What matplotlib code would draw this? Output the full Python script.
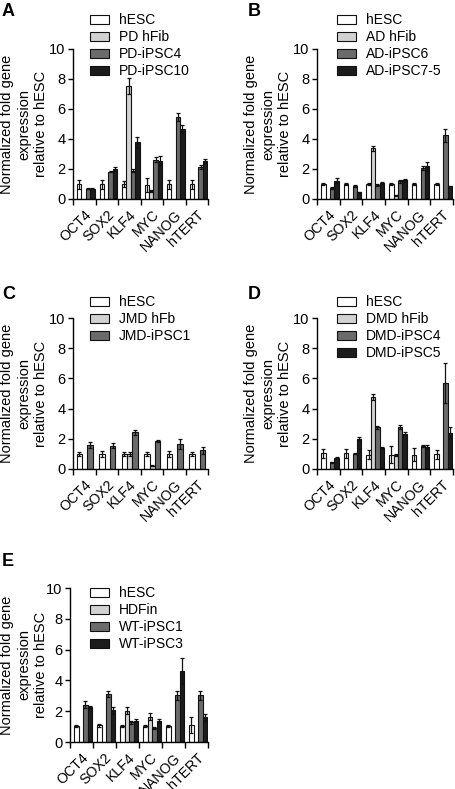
import numpy as np
import matplotlib
matplotlib.use("Agg")
import matplotlib.pyplot as plt

plt.rcParams['font.family'] = ['Liberation Sans', 'DejaVu Sans']

genes = ["OCT4", "SOX2", "KLF4", "MYC", "NANOG", "hTERT"]

# Panel A
a_labels = ["hESC", "PD hFib", "PD-iPSC4", "PD-iPSC10"]
a_hesc = [1.0, 1.0, 1.0, 0.95, 1.0, 1.0]
a_hesc_err = [0.3, 0.3, 0.2, 0.45, 0.3, 0.3]
a_fib = [0, 0, 7.55, 0.55, 0, 0]
a_fib_err = [0, 0, 0.55, 0.05, 0, 0]
a_ips1 = [0.7, 1.82, 1.9, 2.62, 5.45, 2.15]
a_ips1_err = [0.05, 0.05, 0.07, 0.15, 0.28, 0.15]
a_ips2 = [0.7, 2.02, 3.78, 2.56, 4.68, 2.55]
a_ips2_err = [0.05, 0.12, 0.35, 0.28, 0.25, 0.15]

# Panel B
b_labels = ["hESC", "AD hFib", "AD-iPSC6", "AD-iPSC7-5"]
b_hesc = [1.0, 1.0, 1.0, 1.0, 1.0, 1.0]
b_hesc_err = [0.07, 0.05, 0.07, 0.05, 0.07, 0.05]
b_fib = [0, 0, 3.37, 0.24, 0, 0]
b_fib_err = [0, 0, 0.15, 0.03, 0, 0]
b_ips1 = [0.73, 0.88, 0.95, 1.2, 2.08, 4.25]
b_ips1_err = [0.05, 0.08, 0.08, 0.1, 0.15, 0.45]
b_ips2 = [1.23, 0.46, 1.08, 1.27, 2.17, 0.86]
b_ips2_err = [0.15, 0.03, 0.08, 0.06, 0.28, 0.04]

# Panel C
c_labels = ["hESC", "JMD hFb", "JMD-iPSC1"]
c_hesc = [1.0, 1.0, 1.0, 1.0, 1.0, 1.0]
c_hesc_err = [0.15, 0.18, 0.15, 0.12, 0.22, 0.12]
c_fib = [0, 0, 1.0, 0.22, 0, 0]
c_fib_err = [0, 0, 0.12, 0.03, 0, 0]
c_ips1 = [1.6, 1.55, 2.42, 1.83, 1.67, 1.23]
c_ips1_err = [0.18, 0.15, 0.15, 0.06, 0.32, 0.22]

# Panel D
d_labels = ["hESC", "DMD hFib", "DMD-iPSC4", "DMD-iPSC5"]
d_hesc = [1.03, 1.03, 0.96, 0.96, 0.96, 0.98]
d_hesc_err = [0.27, 0.27, 0.33, 0.55, 0.42, 0.3]
d_fib = [0, 0, 4.8, 0.94, 0, 0]
d_fib_err = [0, 0, 0.2, 0.05, 0, 0]
d_ips1 = [0.46, 1.0, 2.76, 2.78, 1.51, 5.7]
d_ips1_err = [0.03, 0.03, 0.1, 0.15, 0.05, 1.3]
d_ips2 = [0.74, 2.0, 1.42, 2.34, 1.47, 2.4]
d_ips2_err = [0.04, 0.1, 0.06, 0.12, 0.12, 0.35]

# Panel E
e_labels = ["hESC", "HDFin", "WT-iPSC1", "WT-iPSC3"]
e_hesc = [1.05, 1.08, 1.05, 1.05, 1.05, 1.1]
e_hesc_err = [0.08, 0.08, 0.08, 0.08, 0.08, 0.5]
e_fib = [0, 0, 2.04, 1.65, 0, 0]
e_fib_err = [0, 0, 0.25, 0.22, 0, 0]
e_ips1 = [2.42, 3.12, 1.28, 0.92, 3.03, 3.03]
e_ips1_err = [0.22, 0.22, 0.1, 0.08, 0.28, 0.3]
e_ips2 = [2.25, 2.05, 1.38, 1.35, 4.6, 1.6]
e_ips2_err = [0.1, 0.2, 0.1, 0.12, 0.85, 0.25]

colors = ["#ffffff", "#d2d2d2", "#6b6b6b", "#1c1c1c"]

W, H = 455, 789
fig = plt.figure(figsize=(W / 100, H / 100), dpi=100)


def fx(x):
    return x / W


def fy(y):
    return 1 - y / H


def panel(letter, left, right, top, bottom, labels, series, errs,
          leg_xy, letter_xy, ylab_x):
    ax = fig.add_axes([fx(left), fy(bottom), fx(right - left), (bottom - top) / H])
    n = len(series)
    if n == 4:
        gap, bw = 0.18, 0.195
    else:
        gap, bw = 0.16, 0.24
    cat = np.arange(len(genes))
    for i, (vals, er) in enumerate(zip(series, errs)):
        xs = cat + gap + bw * (i + 0.5)
        vals = np.asarray(vals, float)
        er = np.asarray(er, float)
        ax.bar(xs, vals, width=bw, color=colors[i], edgecolor="#111111",
               linewidth=0.8, label=labels[i], zorder=2)
        m = vals > 0
        ax.errorbar(xs[m], vals[m], yerr=er[m], fmt="none", ecolor="#111111",
                    elinewidth=0.9, capsize=1.6, capthick=0.9, zorder=3)
    ax.set_xlim(0, len(genes))
    ax.set_ylim(0, 10)
    ax.set_yticks([0, 2, 4, 6, 8, 10])
    ax.set_xticks(np.arange(len(genes) + 1))
    ax.set_xticklabels([])
    ax.set_xticks(cat + 0.5, minor=True)
    ax.set_xticklabels(genes, minor=True, rotation=45, ha="right",
                       rotation_mode="anchor", fontsize=10.2)
    ax.tick_params(axis="x", which="minor", length=0, pad=6)
    ax.tick_params(axis="x", which="major", length=4, width=1)
    ax.tick_params(axis="y", length=3.5, width=1, labelsize=10.5, pad=2)
    for s in ["top", "right"]:
        ax.spines[s].set_visible(False)
    for s in ["left", "bottom"]:
        ax.spines[s].set_linewidth(1)
    ax.legend(loc="upper left", bbox_to_anchor=(fx(leg_xy[0]), fy(leg_xy[1])),
              bbox_transform=fig.transFigure, frameon=False, borderpad=0,
              borderaxespad=0, handlelength=1.35, handleheight=0.62,
              handletextpad=0.75, labelspacing=0.22, fontsize=10)
    fig.text(fx(letter_xy[0]), fy(letter_xy[1]), letter, fontsize=13,
             fontweight="bold", ha="left", va="top")
    fig.text(fx(ylab_x), fy((top + bottom) / 2),
             "Normalized fold gene\nexpression\nrelative to hESC",
             rotation=90, ha="center", va="center", multialignment="center",
             fontsize=10.5, linespacing=1.25)
    return ax


panel("A", 73, 208, 49, 199, a_labels, [a_hesc, a_fib, a_ips1, a_ips2],
      [a_hesc_err, a_fib_err, a_ips1_err, a_ips2_err], (90, 13), (2, 3), 24)
panel("B", 317, 453, 49, 199, b_labels, [b_hesc, b_fib, b_ips1, b_ips2],
      [b_hesc_err, b_fib_err, b_ips1_err, b_ips2_err], (337, 13), (248, 3), 268)
panel("C", 73, 208, 318, 469, c_labels, [c_hesc, c_fib, c_ips1],
      [c_hesc_err, c_fib_err, c_ips1_err], (90, 295), (2, 286), 24)
panel("D", 317, 453, 318, 469, d_labels, [d_hesc, d_fib, d_ips1, d_ips2],
      [d_hesc_err, d_fib_err, d_ips1_err, d_ips2_err], (337, 295), (248, 286), 268)
panel("E", 70, 208, 588, 742, e_labels, [e_hesc, e_fib, e_ips1, e_ips2],
      [e_hesc_err, e_fib_err, e_ips1_err, e_ips2_err], (90, 586), (2, 553), 24)

fig.savefig("out.png", dpi=100)
